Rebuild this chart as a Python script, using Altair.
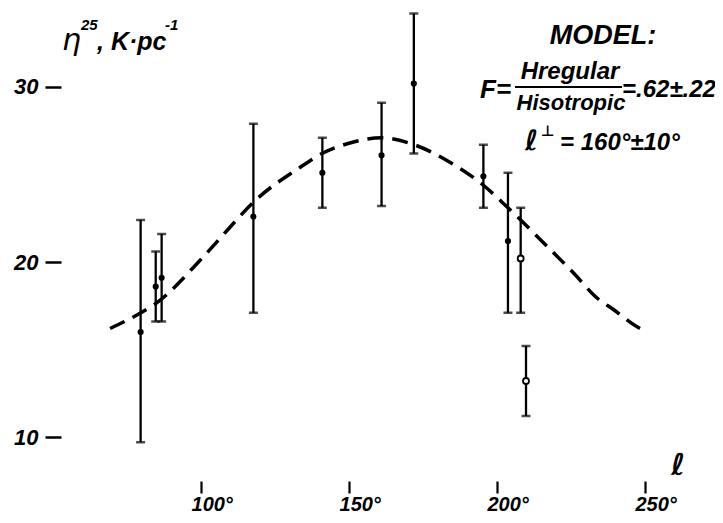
import altair as alt
import pandas as pd

# ---- data ----
lon = [79.6, 84.7, 86.7, 117.7, 141.0, 161.0, 171.9, 195.4, 203.7, 208.0, 209.8]
eta = [16.0, 18.6, 19.1, 22.6, 25.1, 26.1, 30.2, 24.9, 21.2, 20.2, 13.2]
eta_hi = [22.4, 20.6, 21.6, 27.9, 27.1, 29.1, 34.2, 26.7, 25.1, 23.1, 15.2]
eta_lo = [9.7, 16.6, 16.6, 17.1, 23.1, 23.2, 26.2, 23.1, 17.1, 17.1, 11.2]
is_open = [False, False, False, False, False, False, False, False, False, True, True]

curve_l = [69.3, 79.7, 84.5, 99.7, 108.8, 117.6, 133.4, 140.9, 150.3, 161.1,
           172.0, 184.1, 195.3, 203.7, 216.9, 225.7, 234.1, 239.2, 247.3, 250.7]
curve_eta = [16.2, 17.1, 17.6, 20.1, 21.8, 23.4, 25.4, 26.2, 26.8, 27.1,
             26.7, 25.7, 24.4, 23.1, 20.9, 19.4, 17.9, 17.3, 16.3, 16.0]

x_ticks = [100, 150, 200, 250]
y_ticks = [10, 20, 30]

y_title_parts = ["η", "25", ", K·pc", "-1"]
x_title = "ℓ"
model_title = "MODEL:"
f_left = "F="
f_num = "Hregular"
f_den = "Hisotropic"
f_val = "=.62±.22"
l_sym = "ℓ"
l_perp = "⊥"
l_val = "= 160°±10°"

FONT = "Liberation Sans"

pts = pd.DataFrame({"l": lon, "eta": eta, "hi": eta_hi, "lo": eta_lo, "open": is_open})
curve = pd.DataFrame({"l": curve_l, "eta": curve_eta})

xs = alt.Scale(domain=[52.7, 273.65], nice=False, zero=False)
ys = alt.Scale(domain=[7.486, 34.514], nice=False, zero=False)

x_axis = alt.Axis(values=x_ticks, labelExpr="datum.value + '°'", domain=False, grid=False,
                  tickSize=12, tickWidth=2.2, tickColor="black",
                  labelFont=FONT, labelFontStyle="italic", labelFontWeight="bold",
                  labelFontSize=20, labelColor="black",
                  labelAlign="left", labelOffset=-10, labelPadding=1, title=None)
y_axis = alt.Axis(values=y_ticks, domain=False, grid=False,
                  tickSize=16, tickWidth=2.5, tickColor="black",
                  labelFont=FONT, labelFontStyle="italic", labelFontWeight="bold",
                  labelFontSize=22, labelColor="black",
                  labelPadding=7, title=None)

X = alt.X("l:Q", scale=xs, axis=x_axis)

curve_layer = alt.Chart(curve).mark_line(
    color="black", strokeWidth=3.5, strokeDash=[16, 9], interpolate="monotone"
).encode(x=X, y=alt.Y("eta:Q", scale=ys, axis=y_axis))

base = alt.Chart(pts)
bars = base.mark_rule(color="black", strokeWidth=2.3).encode(
    x=X, y=alt.Y("lo:Q", scale=ys, axis=y_axis), y2="hi:Q")
caps_hi = base.mark_tick(orient="horizontal", color="black", size=9, thickness=2.5).encode(
    x=X, y=alt.Y("hi:Q", scale=ys, axis=y_axis))
caps_lo = base.mark_tick(orient="horizontal", color="black", size=9, thickness=2.5).encode(
    x=X, y=alt.Y("lo:Q", scale=ys, axis=y_axis))
filled = base.transform_filter("!datum.open").mark_point(
    shape="circle", filled=True, color="black", size=38, opacity=1).encode(
    x=X, y=alt.Y("eta:Q", scale=ys, axis=y_axis))
open_pts = base.transform_filter("datum.open").mark_point(
    shape="circle", filled=True, fill="white", stroke="black", strokeWidth=1.8, size=36, opacity=1).encode(
    x=X, y=alt.Y("eta:Q", scale=ys, axis=y_axis))


def label(txt, px, py, size, align="left", font=FONT, style="italic", weight="bold"):
    return alt.Chart(pd.DataFrame({"t": [txt]})).mark_text(
        font=font, fontStyle=style, fontWeight=weight, fontSize=size, align=align,
        baseline="alphabetic", color="black"
    ).encode(x=alt.value(px), y=alt.value(py), text="t:N")


texts = [
    label(y_title_parts[0], 1, 42, 30, font="DejaVu Sans", weight="normal"),
    label(y_title_parts[1], 20, 22, 15),
    label(y_title_parts[2], 36, 42, 25),
    label(y_title_parts[3], 104, 22, 15),
    label(x_title, 617, 467, 30, align="center", font="DejaVu Sans"),
    label(model_title, 542, 36, 27, align="center"),
    label(f_left, 419, 90, 26),
    label(f_num, 509, 71, 24, align="center"),
    label(f_den, 510, 102, 22, align="center"),
    label(f_val, 561, 89, 24),
    label(l_sym, 464, 142, 28, font="DejaVu Sans"),
    label(l_perp, 480, 128, 15, font="DejaVu Sans", style="normal"),
    label(l_val, 499, 142, 24),
]

frac_bar = alt.Chart(pd.DataFrame({"a": [0]})).mark_rule(color="black", strokeWidth=2.2).encode(
    x=alt.value(454), x2=alt.value(561), y=alt.value(79))

chart = alt.layer(curve_layer, bars, caps_hi, caps_lo, filled, open_pts, frac_bar, *texts).properties(
    width=654, height=473,
    padding={"left": 53, "top": 0, "right": 0, "bottom": 34},
    autosize="none",
    background="white",
).configure_view(stroke=None)

chart.save("out.html", embed_options={"renderer": "svg", "actions": False})
